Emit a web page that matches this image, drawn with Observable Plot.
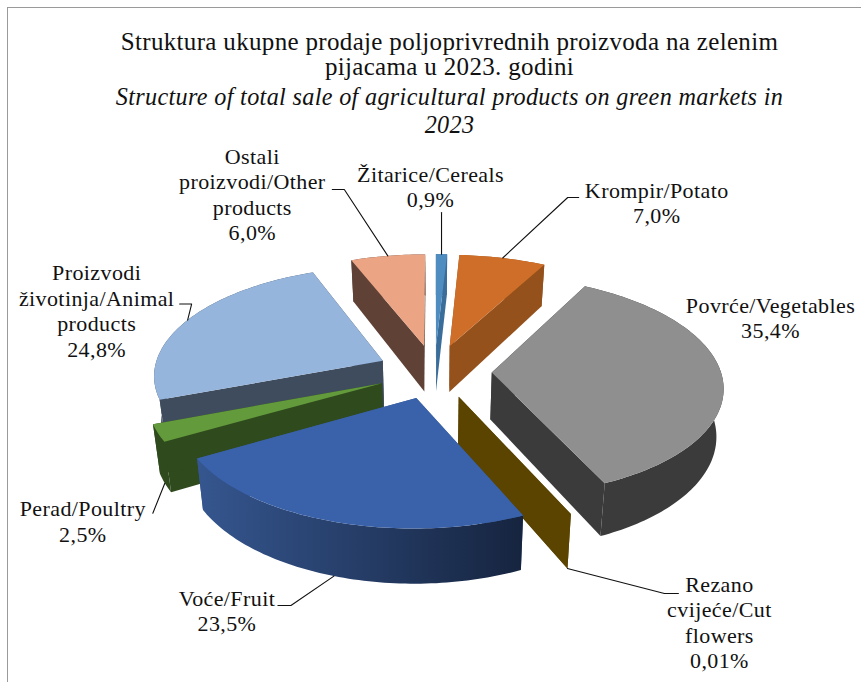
<!DOCTYPE html>
<html><head><meta charset="utf-8">
<script src="https://cdn.jsdelivr.net/npm/d3@7"></script>
<script src="https://cdn.jsdelivr.net/npm/@observablehq/plot@0.6"></script>
<style>
html,body{margin:0;padding:0;background:#fff;overflow:hidden}
#frame{position:absolute;left:7px;top:7px;width:900px;height:700px;border-left:1.5px solid #9a9a9a;border-top:1.5px solid #9a9a9a}
#wrap{position:relative;width:861px}
#head{height:140px;box-sizing:border-box;padding-top:27px;text-align:center;font:25px/27.5px "Liberation Serif",serif;color:#111;position:relative;left:19px;letter-spacing:.33px}
#head div{height:27.5px;white-space:nowrap;position:relative}
#head i{font-size:24.2px}
svg{display:block;overflow:visible}
</style></head><body>
<div id="frame"></div>
<div id="wrap"><div id="head"></div><div id="chart"></div></div>
<script>
const titleLines = ["Struktura ukupne prodaje poljoprivrednih proizvoda na zelenim","pijacama u 2023. godini"];
const titleItalic = ["Structure of total sale of agricultural products on green markets in","2023"];
const names = ["Žitarice/Cereals","Krompir/Potato","Povrće/Vegetables","Rezano cvijeće/Cut flowers","Voće/Fruit","Perad/Poultry","Proizvodi životinja/Animal products","Ostali proizvodi/Other products"];
const values = [0.9,7.0,35.4,0.01,23.5,2.5,24.8,6.0];
const valueLabels = ["0,9%","7,0%","35,4%","0,01%","23,5%","2,5%","24,8%","6,0%"];
const labelLines = [["Žitarice/Cereals"],["Krompir/Potato"],["Povrće/Vegetables"],["Rezano","cvijeće/Cut","flowers"],["Voće/Fruit"],["Perad/Poultry"],["Proizvodi","životinja/Animal","products"],["Ostali","proizvodi/Other","products"]];
const topColors = ["#4f8dc1","#cf6e28","#8f8f8f","#5b4300","#3a62aa","#629a3c","#95b5dd","#eba585"];
const sideColors = ["#3a6d9a","#94511c","#3b3b3b","#5b4300","url(#fruitWall)","#2f4b1d","#3f4c5e","#5f4136"];
const wallColors = ["#3a6d9a","#94511c","#3b3b3b","#5b4300","#35568f","#2f4b1d","#3f4c5e","#5f4136"];
// layout: projection of the pie and where each label sits relative to its slice
const view = {cx:434,cy:371,A:229,B:108,k:0.12,D:47,shrink:0.975,explode:0.25,lineH:25.5};
const drawOrder = [7,0,1,6,2,5,3,4];
const leaders = [
 {bend:[0,-41.6],tail:0,lx:-11,ly:-38},
 {bend:[65,-60.5],tail:11,lx:78,ly:-7},
 null,
 {bend:[97,25],tail:14,lx:41,ly:-9},
 {bend:[-43,29.4],tail:-13,lx:-51,ly:-7},
 {bend:[-12,30],tail:0,lx:-70,ly:-4},
 {bend:[4,-16],tail:-12,lx:-83,ly:-31},
 {bend:[-43.5,-66.4],tail:-12,lx:-80,ly:-33}
];
const freeLabels = {2:{x:770,y:305}};
const titleNudge = [1,-2,1,1];

const total = d3.sum(values);
let acc = 0;
const slices = values.map((v,i)=>{const a0=acc/total*2*Math.PI; acc+=v; const a1=acc/total*2*Math.PI; return {i,a0,a1,mid:(a0+a1)/2};});
function project(X,Y,bottom){
  const w = 1+view.k*Y;
  const sx = view.A*X/w*(bottom?view.shrink:1), sy = -view.B*Y/w + (bottom?view.D/w:0);
  return [view.cx+sx, view.cy+sy];
}
const rim = (s,a,bottom)=>project(view.explode*Math.sin(s.mid)+Math.sin(a), view.explode*Math.cos(s.mid)+Math.cos(a), bottom);
const apex = (s,bottom)=>project(view.explode*Math.sin(s.mid), view.explode*Math.cos(s.mid), bottom);

const faces = [];
function face(id,pts,fill){pts.forEach(p=>faces.push({id,x:p[0],y:p[1],fill}));}
for(const i of drawOrder){
  const s = slices[i];
  const n = Math.max(2,Math.ceil((s.a1-s.a0)/0.02));
  const angles = d3.range(n+1).map(j=>s.a0+(s.a1-s.a0)*j/n);
  const top = angles.map(a=>rim(s,a,false)), bot = angles.map(a=>rim(s,a,true));
  face(i+"-w0",[apex(s,false),top[0],bot[0],apex(s,true)],wallColors[i]);
  face(i+"-w1",[apex(s,false),top[n],bot[n],apex(s,true)],wallColors[i]);
  face(i+"-c",[...top,...bot.slice().reverse()],sideColors[i]);
  face(i+"-t",[apex(s,false),...top],topColors[i]);
}
const leaderPts=[], labels=[];
slices.forEach(s=>{
  const L = leaders[s.i];
  const bottom = s.i===3||s.i===4||s.i===5;
  const a = rim(s,s.mid,bottom);
  let lx,ly;
  if(L){
    const b=[a[0]+L.bend[0],a[1]+L.bend[1]], e=[b[0]+L.tail,b[1]];
    [a,b,e].forEach(p=>leaderPts.push({id:s.i,x:p[0],y:p[1]}));
    lx=e[0]+L.lx; ly=e[1]+L.ly;
  } else {lx=freeLabels[s.i].x; ly=freeLabels[s.i].y;}
  [...labelLines[s.i],valueLabels[s.i]].forEach((t,j)=>labels.push({t,x:lx,y:ly+j*view.lineH}));
});

const head=document.getElementById("head");
titleLines.forEach((t,j)=>{const d=document.createElement("div");d.textContent=t;d.style.top=titleNudge[j]+"px";head.append(d);});
titleItalic.forEach((t,j)=>{const d=document.createElement("div");const e=document.createElement("i");e.textContent=t;d.append(e);d.style.top=titleNudge[j+2]+"px";head.append(d);});

const plot = Plot.plot({
  width:861,height:542,margin:0,
  x:{domain:[0,861],range:[0,861],axis:null},
  y:{domain:[140,682],range:[0,542],axis:null},
  color:{type:"identity"},
  marks:[
    ()=>{const svg=d3.create("svg:defs");const g=svg.append("linearGradient").attr("id","fruitWall");
      g.append("stop").attr("offset","0").attr("stop-color","#35568f");
      g.append("stop").attr("offset","1").attr("stop-color","#16243f");return svg.node();},
    Plot.line(faces,{x:"x",y:"y",z:"id",fill:"fill",stroke:null,curve:"linear-closed"}),
    Plot.line(leaderPts,{x:"x",y:"y",z:"id",stroke:"#111",strokeWidth:1.1,curve:"linear"}),
    Plot.text(labels,{x:"x",y:"y",text:"t",fill:"#111",fontSize:22,fontFamily:"Liberation Serif",textAnchor:"middle"})
  ]
});
plot.style.letterSpacing="0.4px";
document.getElementById("chart").append(plot);
</script></body></html>
